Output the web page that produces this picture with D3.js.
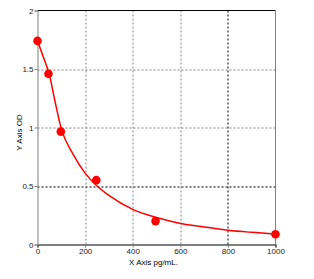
<!DOCTYPE html>
<html>
<head>
<meta charset="UTF-8">
<script src="https://d3js.org/d3.v7.min.js"></script>
<style>
    body { margin: 0; background: #fff; font-family: "Liberation Sans", Arial, sans-serif; }
    .tick text { font-size: 8px; fill: #222; }
    .axis-title { font-size: 8px; fill: #000; }
</style>
</head>
<body>
<div id="chart"></div>
<script>
    // standard points
    const conc = [0, 46, 98, 247, 496, 1000];
    const od = [1.74, 1.46, 0.965, 0.55, 0.2, 0.088];
    // fitted curve
    const curveX = [0, 25, 50, 75, 100, 150, 200, 250, 300, 400, 500, 600, 700, 800, 900, 1000];
    const curveY = [1.74, 1.6, 1.45, 1.21, 0.99, 0.77, 0.61, 0.5, 0.42, 0.3, 0.23, 0.18, 0.15, 0.122, 0.104, 0.09];
    const xTicks = [0, 200, 400, 600, 800, 1000];
    const yTicks = [0, 0.5, 1, 1.5, 2];

    const W = 314, H = 279;
    const margin = {top: 10.5, right: 38.5, bottom: 34.5, left: 37.5};
    const width = W - margin.left - margin.right,
          height = H - margin.top - margin.bottom;

    const svg = d3.select("#chart").append("svg")
        .attr("width", W).attr("height", H)
        .append("g")
        .attr("transform", `translate(${margin.left},${margin.top})`);

    const x = d3.scaleLinear().domain([0, 1000]).range([0, width]);
    const y = d3.scaleLinear().domain([0, 2]).range([height, 0]);

    // grid
    svg.selectAll(".vgrid").data(xTicks.filter(d => d > 0 && d < 1000)).enter()
        .append("line")
        .attr("x1", d => Math.round(x(d)) + 0.5).attr("x2", d => Math.round(x(d)) + 0.5)
        .attr("y1", 0).attr("y2", height)
        .attr("stroke", d => d === 800 ? "#000" : "#808080")
        .attr("stroke-dasharray", "2,2");
    svg.selectAll(".hgrid").data(yTicks.filter(d => d > 0 && d < 2)).enter()
        .append("line")
        .attr("y1", d => Math.round(y(d)) + 0.5).attr("y2", d => Math.round(y(d)) + 0.5)
        .attr("x1", 0).attr("x2", width)
        .attr("stroke", d => d === 0.5 ? "#000" : "#808080")
        .attr("stroke-dasharray", "2,2");

    // frame
    svg.append("line").attr("x1", 0).attr("x2", width).attr("y1", 0).attr("y2", 0).attr("stroke", "#000");
    svg.append("line").attr("x1", width).attr("x2", width).attr("y1", 0).attr("y2", height).attr("stroke", "#808080");

    const xAxis = svg.append("g")
        .attr("transform", `translate(0,${height})`)
        .call(d3.axisBottom(x).tickValues(xTicks).tickSize(3).tickPadding(1).tickFormat(d3.format("d")));
    xAxis.select(".domain").attr("stroke", "#000").attr("stroke-width", 1.2);
    xAxis.selectAll(".tick line").attr("stroke", "#808080");

    const yAxis = svg.append("g")
        .call(d3.axisLeft(y).tickValues(yTicks).tickSize(3).tickPadding(1).tickFormat(d => d));
    yAxis.select(".domain").attr("stroke", "#808080");
    yAxis.selectAll(".tick line").attr("stroke", "#808080");

    // fitted curve
    const line = d3.line()
        .x((d, i) => x(curveX[i]))
        .y(d => y(d))
        .curve(d3.curveMonotoneX);
    svg.append("path")
        .datum(curveY)
        .attr("d", line)
        .attr("fill", "none")
        .attr("stroke", "#ff0000")
        .attr("stroke-width", 1.5);

    svg.selectAll(".pt").data(od).enter()
        .append("circle")
        .attr("cx", (d, i) => x(conc[i]))
        .attr("cy", d => y(d))
        .attr("r", 4.3)
        .attr("fill", "#ff0000");

    svg.append("text")
        .attr("class", "axis-title")
        .attr("x", width / 2 - 3)
        .attr("y", height + 20)
        .attr("text-anchor", "middle")
        .text("X Axis pg/mL.");

    svg.append("text")
        .attr("class", "axis-title")
        .attr("transform", `translate(${-15.5},${height / 2 + 5}) rotate(-90)`)
        .attr("text-anchor", "middle")
        .text("Y Axis OD");
</script>
</body>
</html>
